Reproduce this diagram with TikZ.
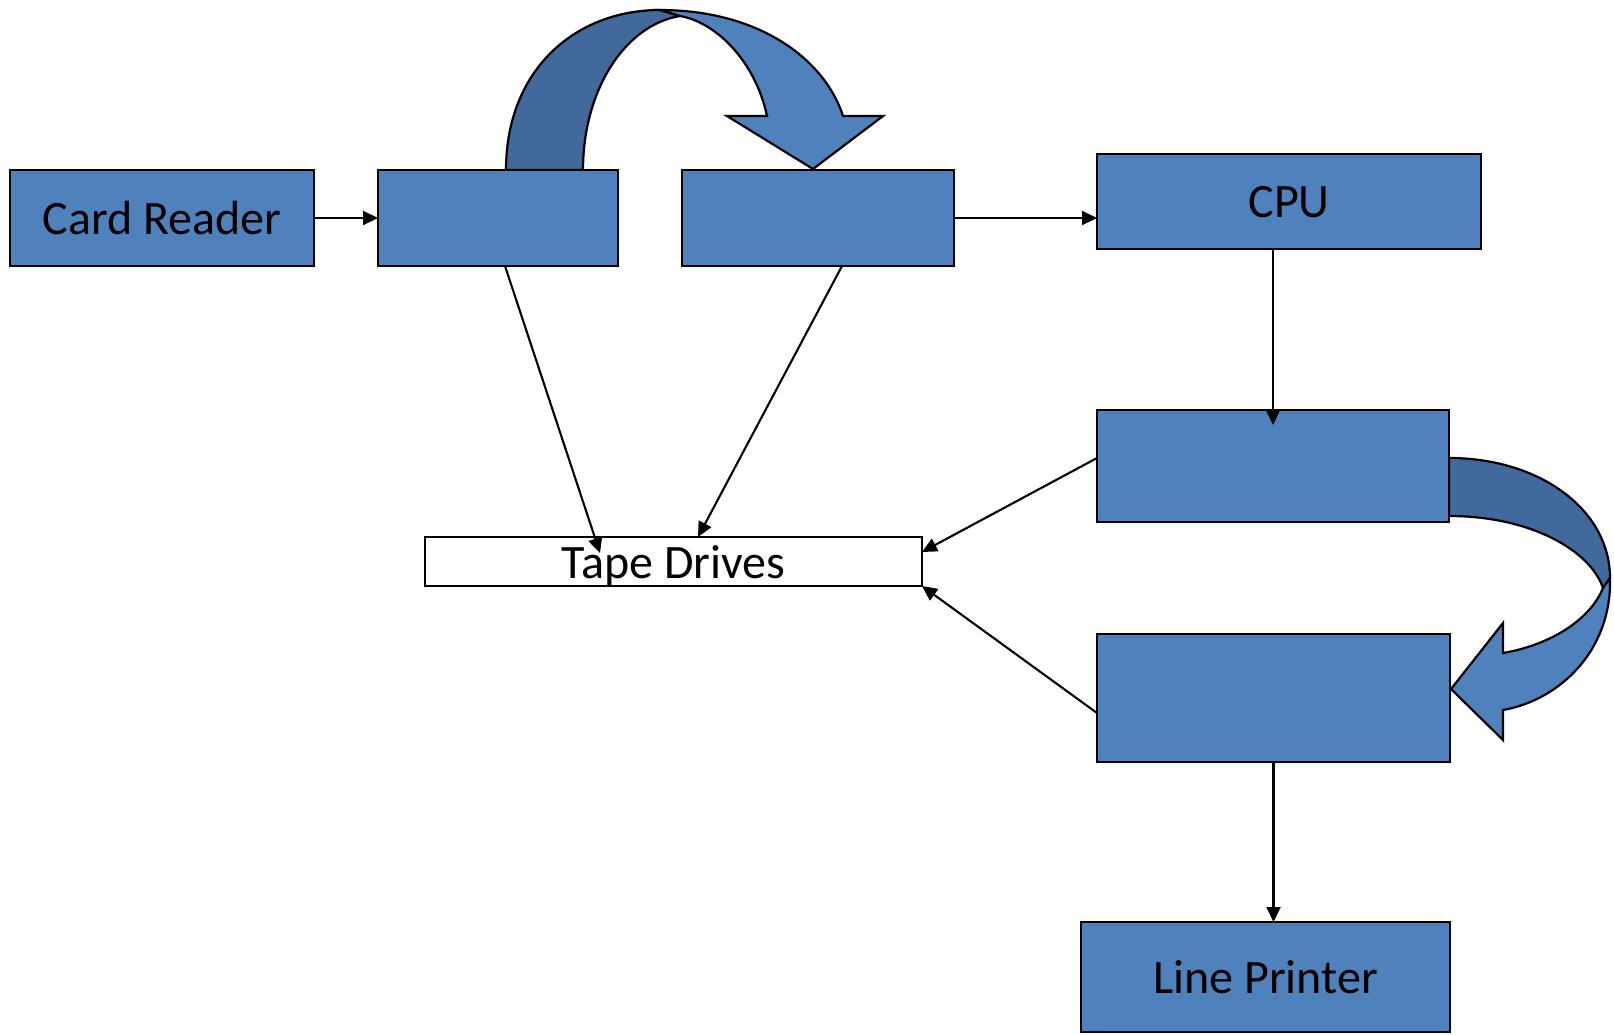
\documentclass[tikz,border=0pt]{standalone}
\usepackage{fontspec}
\setmainfont{Carlito}
\usetikzlibrary{arrows.meta,calc}
\definecolor{boxblue}{HTML}{4F81BD}
\definecolor{bandblue}{HTML}{41699B}
\begin{document}
\begin{tikzpicture}[x=1pt,y=-1pt,
  unit/.style={draw=black,line width=2.4pt,fill=boxblue,inner sep=0pt,outer sep=0pt,
    anchor=north west,text depth=0pt,font=\fontsize{48}{58}\selectfont},
  tapebox/.style={unit,fill=white},
  link/.style={line width=2.1pt,-{Triangle[length=15pt,width=14pt]}},
  backband/.style={draw=black,line width=2.2pt,line join=round,fill=bandblue},
  frontband/.style={draw=black,line width=2.2pt,line join=miter,fill=boxblue}]

\useasboundingbox (0,0) rectangle (1614,1034);

% curved transfer arrow over the two buffers
\path[backband] (506,170) .. controls (506,70) and (575,10) .. (660,10)
  -- (680,16) .. controls (625,25) and (583,90) .. (583,170) -- cycle;
\path[frontband] (660,10) .. controls (760,10) and (825,60) .. (843,116)
  -- (883,116) -- (813,169) -- (727,116) -- (767,116)
  .. controls (755,60) and (715,22) .. (680,16) -- cycle;

% curved transfer arrow between the output buffers
\path[backband] (1449,458) .. controls (1540,458) and (1610,510) .. (1610,578)
  -- (1603,588) .. controls (1590,550) and (1530,516) .. (1449,516) -- cycle;
\path[frontband] (1610,578) .. controls (1612,650) and (1560,700) .. (1503,710)
  -- (1503,740) -- (1451,689) -- (1503,623) -- (1503,653)
  .. controls (1550,645) and (1590,620) .. (1603,588) -- cycle;

% units
\node[unit,minimum width=304pt,minimum height=96pt] (cr) at (10,170) {Card Reader};
\node[unit,minimum width=240pt,minimum height=96pt] (b2) at (378,170) {};
\node[unit,minimum width=272pt,minimum height=96pt] (b3) at (682,170) {};
\node[unit,minimum width=384pt,minimum height=95pt] (cpu) at (1097,154) {CPU};
\node[unit,minimum width=352pt,minimum height=112pt] (b5) at (1097,410) {};
\node[unit,minimum width=353pt,minimum height=128pt] (b6) at (1097,634) {};
\node[unit,minimum width=369pt,minimum height=110pt] (lp) at (1081,922) {Line Printer};
\node[tapebox,minimum width=497pt,minimum height=49pt] (td) at (425,537) {Tape Drives};

% data paths
\draw[link] (cr.east) -- (b2.west);
\draw[link] (b3.east) -- (b3.east -| cpu.west);
\draw[link] (b5.north |- cpu.south) -- ($(b5.north)+(0,15)$);
\draw[link] (b6.south) -- (b6.south |- lp.north);
\draw[link] ($(b2.south west)+(127,0)$) -- ($(td.north west)+(175,16)$);
\draw[link] ($(b3.south west)+(160,0)$) -- ($(td.north west)+(273,0)$);
\draw[link] ($(b5.north west)+(0,48)$) -- ($(td.north east)+(0,15)$);
\draw[link] ($(b6.north west)+(0,79)$) -- (td.south east);
\end{tikzpicture}
\end{document}
